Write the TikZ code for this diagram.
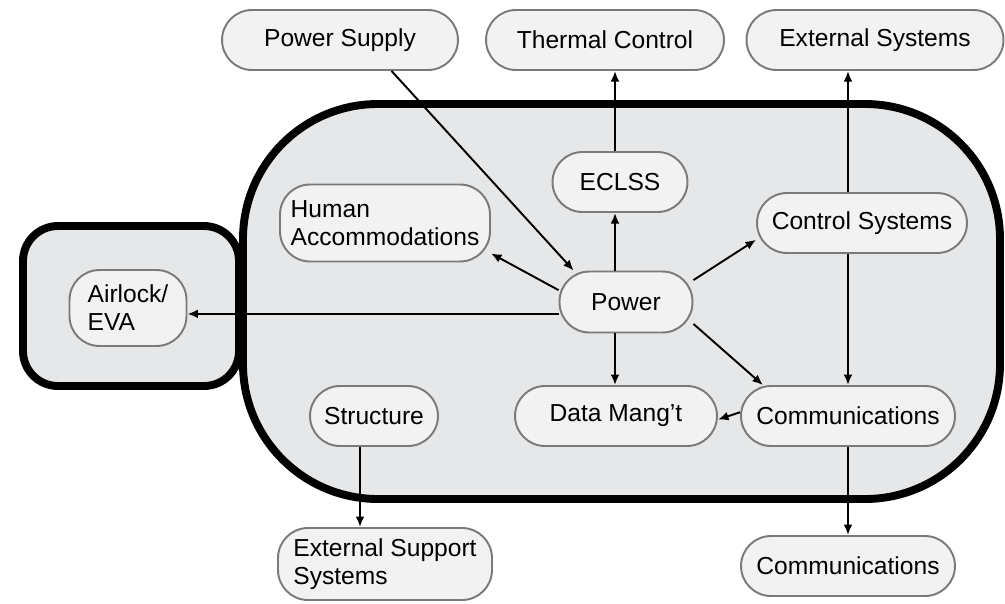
\documentclass[tikz,border=0pt]{standalone}
\usepackage{fontspec}
\setmainfont{Liberation Sans}
\usetikzlibrary{arrows.meta}
\definecolor{HullGray}{RGB}{230,231,232}
\definecolor{BoxGray}{RGB}{242,242,242}
\definecolor{EdgeGray}{RGB}{122,122,122}

\begin{document}
\begin{tikzpicture}[x=0.02cm, y=-0.02cm,
    sys/.style={draw=EdgeGray, line width=1.1pt, fill=BoxGray, rounded corners=0.6cm,
      inner sep=0pt, align=left, font=\fontsize{14}{16}\selectfont},
    hull/.style={draw=black, line width=4.5pt, fill=HullGray},
    link/.style={-{Latex[length=6pt,width=5pt]}, line width=1.1pt}]
    \useasboundingbox (0,0) rectangle (1005,603);
    % modules
    \draw[hull, rounded corners=0.7cm] (23,226) rectangle (239,386);
    \draw[hull, rounded corners=2.7cm] (243,104) rectangle (1000,499);
    % subsystems
    \node[sys, minimum width=4.72cm, minimum height=1.2cm] (supply) at (340,40) {Power Supply};
    \node[sys, minimum width=4.76cm, minimum height=1.2cm] (thermal) at (605,40) {Thermal Control};
    \node[sys, minimum width=5.14cm, minimum height=1.2cm] (extsys) at (875,40) {External Systems};
    \node[sys, minimum width=4.2cm, minimum height=1.54cm] (human) at (385,223) {Human\\Accommodations};
    \node[sys, minimum width=2.7cm, minimum height=1.2cm] (eclss) at (620,182) {ECLSS};
    \node[sys, minimum width=4.2cm, minimum height=1.2cm] (control) at (862,223) {Control Systems};
    \node[sys, minimum width=2.66cm, minimum height=1.22cm] (power) at (626,302) {Power};
    \node[sys, minimum width=2.34cm, minimum height=1.52cm] (airlock) at (128,308) {Airlock/\\EVA};
    \node[sys, minimum width=4.04cm, minimum height=1.2cm] (data) at (616,416) {Data Mang't};
    \node[sys, minimum width=4.28cm, minimum height=1.2cm] (comm) at (848,416) {Communications};
    \node[sys, minimum width=2.56cm, minimum height=1.2cm] (struct) at (374,416) {Structure};
    \node[sys, minimum width=4.28cm, minimum height=1.44cm] (extsup) at (385,564) {External Support\\Systems};
    \node[sys, minimum width=4.28cm, minimum height=1.2cm] (comm2) at (848,566) {Communications};
    \coordinate (ecol) at (615,0);
    % links
    \draw[link] (supply.-31) -- (power.149);
    \draw[link] (eclss.north -| ecol) -- (thermal.south -| ecol);
    \draw[link] (power.north -| ecol) -- (eclss.south -| ecol);
    \draw[link] (power.south -| ecol) -- (data.north -| ecol);
    \draw[link] (power.170) -- (human.-16);
    \draw[link] (power.190) -- (power.190 -| airlock.east);
    \draw[link] (power.18) -- (control.189);
    \draw[link] (power.-18) -- (comm.160);
    \draw[link] (control.north -| comm) -- (extsys.south -| comm);
    \draw[link] (control.south -| comm) -- (comm.north);
    \draw[link] (comm.178) -- (data.-2);
    \draw[link] (comm.south) -- (comm2.north);
    \draw[link] ([xshift=-0.28cm]struct.south) -- ([xshift=-0.28cm]struct.south |- extsup.north);
\end{tikzpicture}
\end{document}
